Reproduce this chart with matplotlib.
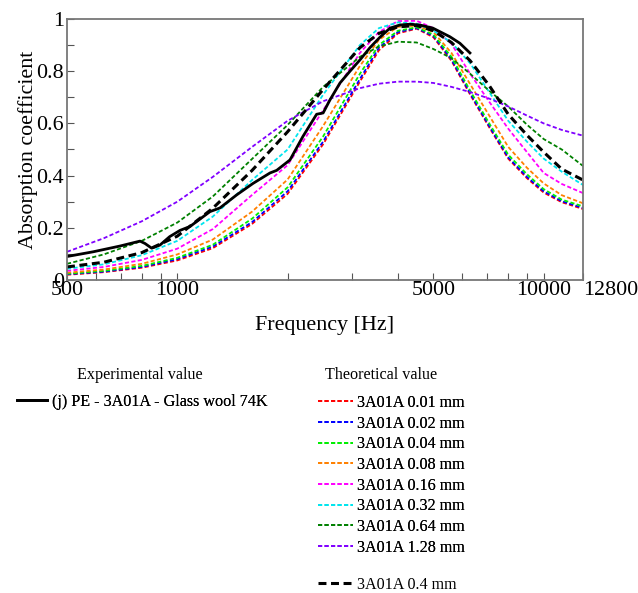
import matplotlib
matplotlib.use('Agg')
import matplotlib.pyplot as plt
from matplotlib.ticker import FixedLocator, NullFormatter
from matplotlib.transforms import ScaledTranslation

plt.rcParams['font.family'] = 'Liberation Serif'

# Frequencies (Hz) at which the theoretical curves were read
freq = [500, 630, 800, 1000, 1250, 1600, 2000, 2500, 3150, 3550, 4000, 4500,
        5000, 5600, 6300, 7100, 8000, 9000, 10000, 11200, 12800]

# Theoretical absorption coefficients
t_001 = [0.020, 0.030, 0.047, 0.075, 0.122, 0.215, 0.330, 0.520, 0.760, 0.880, 0.945, 0.963,
         0.930, 0.840, 0.710, 0.585, 0.465, 0.390, 0.335, 0.298, 0.272]
t_002 = [0.022, 0.032, 0.050, 0.080, 0.128, 0.222, 0.340, 0.530, 0.770, 0.890, 0.950, 0.965,
         0.935, 0.845, 0.715, 0.590, 0.470, 0.395, 0.340, 0.302, 0.276]
t_004 = [0.024, 0.035, 0.054, 0.085, 0.135, 0.235, 0.355, 0.550, 0.790, 0.900, 0.955, 0.968,
         0.940, 0.855, 0.725, 0.600, 0.480, 0.405, 0.348, 0.308, 0.282]
t_008 = [0.028, 0.040, 0.062, 0.098, 0.155, 0.262, 0.385, 0.590, 0.820, 0.920, 0.970, 0.975,
         0.950, 0.870, 0.750, 0.630, 0.510, 0.430, 0.370, 0.325, 0.294]
t_016 = [0.035, 0.050, 0.077, 0.120, 0.195, 0.326, 0.440, 0.650, 0.870, 0.950, 0.992, 0.993,
         0.965, 0.905, 0.790, 0.683, 0.580, 0.490, 0.410, 0.368, 0.333]
t_032 = [0.043, 0.060, 0.095, 0.150, 0.243, 0.383, 0.500, 0.710, 0.900, 0.965, 0.987, 0.982,
         0.955, 0.910, 0.830, 0.720, 0.610, 0.530, 0.465, 0.415, 0.364]
t_064 = [0.062, 0.098, 0.150, 0.220, 0.320, 0.464, 0.594, 0.740, 0.855, 0.895, 0.913, 0.910,
         0.885, 0.850, 0.790, 0.725, 0.665, 0.595, 0.540, 0.500, 0.437]
t_128 = [0.108, 0.160, 0.225, 0.300, 0.395, 0.510, 0.610, 0.685, 0.735, 0.752, 0.760, 0.760,
         0.755, 0.740, 0.720, 0.695, 0.665, 0.630, 0.600, 0.575, 0.553]
t_040 = [0.050, 0.068, 0.105, 0.168, 0.275, 0.420, 0.568, 0.730, 0.890, 0.945, 0.970, 0.975,
         0.955, 0.910, 0.840, 0.745, 0.635, 0.555, 0.490, 0.425, 0.383]

# Experimental curve
exp_freq = [500, 589, 697, 791, 816, 851, 897, 953, 1017, 1083, 1228, 1307, 1452, 1609,
            1790, 1867, 2030, 2202, 2400, 2500, 2610, 2780, 2960, 3150, 3355, 3572, 3805,
            4050, 4314, 4594, 4984, 5546, 5906, 6290]
exp_val = [0.090, 0.108, 0.130, 0.149, 0.140, 0.122, 0.134, 0.166, 0.190, 0.205, 0.262, 0.276,
           0.326, 0.370, 0.410, 0.420, 0.460, 0.550, 0.635, 0.640, 0.690, 0.755, 0.800, 0.843,
           0.890, 0.930, 0.965, 0.977, 0.980, 0.977, 0.965, 0.932, 0.907, 0.870]

theo_series = [t_001, t_002, t_004, t_008, t_016, t_032, t_064, t_128]
theo_labels = ['3A01A 0.01 mm', '3A01A 0.02 mm', '3A01A 0.04 mm', '3A01A 0.08 mm',
               '3A01A 0.16 mm', '3A01A 0.32 mm', '3A01A 0.64 mm', '3A01A 1.28 mm']
theo_colors = ['#ff0000', '#0000ff', '#00ee00', '#ff8000', '#ff00ff', '#00e5ee',
               '#008000', '#8000ff']

W, H = 638, 593
fig = plt.figure(figsize=(W / 100, H / 100), dpi=100)
ax = fig.add_axes([67 / W, 1 - 280 / H, 516 / W, 261 / H])

theo_lines = []
for vals, lab, col in zip(theo_series, theo_labels, theo_colors):
    ln, = ax.plot(freq, vals, color=col, lw=1.3, dashes=(2.3, 1.3), label=lab)
    theo_lines.append(ln)

ln_exp, = ax.plot(exp_freq, exp_val, color='black', lw=2.0,
                  label='(j) PE - 3A01A - Glass wool 74K')
ln_040, = ax.plot(freq, t_040, color='black', lw=2.2, dashes=(2.6, 1.5),
                  label='3A01A 0.4 mm')

ax.set_xscale('log')
ax.set_xlim(500, 12800)
ax.set_ylim(0, 1)
ax.xaxis.set_major_locator(FixedLocator([500, 1000, 5000, 10000, 12800]))
ax.set_xticklabels(['500', '1000', '5000', '10000', '12800'])
ax.xaxis.set_minor_locator(FixedLocator([600, 700, 800, 900, 2000, 3000, 4000,
                                         6000, 7000, 8000, 9000]))
ax.xaxis.set_minor_formatter(NullFormatter())
ax.set_yticks([0, 0.2, 0.4, 0.6, 0.8, 1.0])
ax.set_yticklabels(['0', '0.2', '0.4', '0.6', '0.8', '1'])
ax.set_yticks([0.1, 0.3, 0.5, 0.7, 0.9], minor=True)

ax.tick_params(axis='both', which='both', direction='in', length=5, width=0.8,
               color='#555555', labelsize=15.8, pad=2, top=False, right=False)
ax.tick_params(axis='x', which='major', pad=1)
for sp in ax.spines.values():
    sp.set_color('#777777')
    sp.set_linewidth(1.3)

# last tick label sits to the right of the axis end
lab_last = ax.get_xticklabels()[-1]
lab_last.set_horizontalalignment('left')
lab_last.set_transform(lab_last.get_transform() + ScaledTranslation(0.5 / 100, 0, fig.dpi_scale_trans))

ax.set_xlabel('Frequency [Hz]', fontsize=15.8, labelpad=11)
ax.set_ylabel('Absorption coefficient', fontsize=15.8, labelpad=-1)

# legends below the plot
fs = 11.6
fig.text(140 / W, 1 - 375 / H, 'Experimental value', fontsize=fs, ha='center', va='center')
fig.text(381 / W, 1 - 375 / H, 'Theoretical value', fontsize=fs, ha='center', va='center')

leg_exp = fig.legend(handles=[ln_exp], loc='upper left', bbox_to_anchor=(17 / W, 1 - 394 / H),
                     frameon=False, fontsize=fs, handlelength=1.85, handletextpad=0.35,
                     borderaxespad=0, borderpad=0)
fig.add_artist(leg_exp)
leg_theo = fig.legend(handles=theo_lines, loc='upper left', bbox_to_anchor=(318 / W, 1 - 395 / H),
                      frameon=False, fontsize=fs, handlelength=2.15, handletextpad=0.3,
                      labelspacing=0.29, borderaxespad=0, borderpad=0)
fig.add_artist(leg_theo)
fig.legend(handles=[ln_040], loc='upper left', bbox_to_anchor=(318 / W, 1 - 577 / H),
           frameon=False, fontsize=fs, handlelength=2.15, handletextpad=0.3,
           borderaxespad=0, borderpad=0)

fig.savefig('out.png', dpi=100, facecolor='white')
